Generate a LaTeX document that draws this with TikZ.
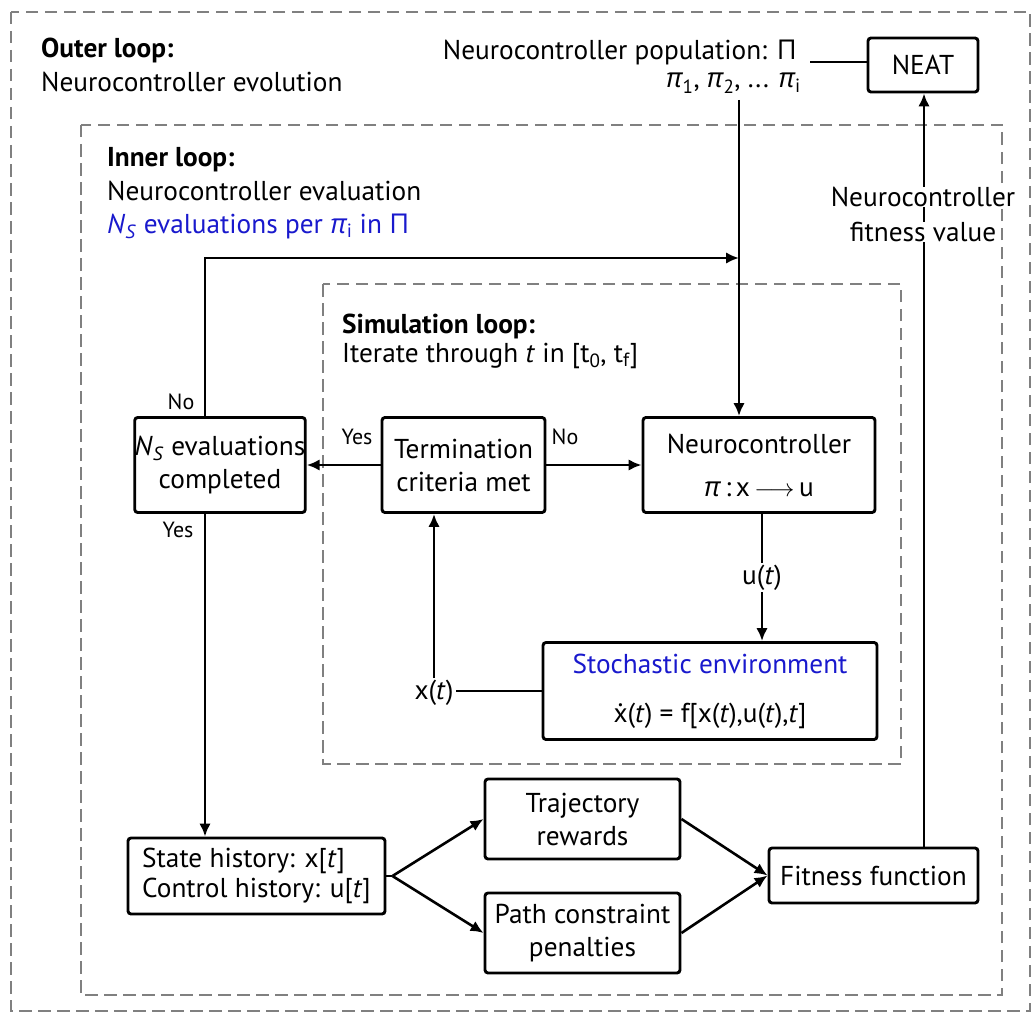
\documentclass[tikz,border=0pt]{standalone}
\usepackage{fontspec}
\setmainfont{PT Sans}
\newfontfamily\grk{Open Sans}
\usetikzlibrary{arrows.meta}
\definecolor{loopgray}{RGB}{128,128,128}
\definecolor{noteblue}{RGB}{25,25,205}
\newcommand{\gpi}{{\grk\itshape π}}
\newcommand{\gPi}{{\grk Π}}
\newcommand{\xdot}{\leavevmode\hbox{\ooalign{x\cr\hidewidth\raisebox{0.56em}{.}\hidewidth\cr}}}
\begin{document}
\begin{tikzpicture}[x=1pt,y=-1pt,
  every node/.style={font=\fontsize{27.3}{33}\selectfont},
  block/.style={draw, line width=2.9pt, rounded corners=3pt, fill=white,
    align=center, inner sep=0pt},
  loopbox/.style={draw=loopgray, line width=2.5pt, dash pattern=on 12.5pt off 6.5pt},
  arr/.style={line width=2.6pt, -{Latex[length=13pt,width=11.5pt]}},
  plain/.style={line width=2.6pt},
  title/.style={anchor=base west, inner sep=0pt},
  small/.style={font=\fontsize{22}{26}\selectfont, inner sep=0pt},
  onwire/.style={fill=white, inner sep=1.5pt}]
\fill[white] (0,0) rectangle (1033,1014);
\useasboundingbox (0,0) rectangle (1033,1014);

% nested loop frames
\draw[loopbox] (11,12) rectangle (1030,1011);
\draw[loopbox] (81,125) rectangle (1002,995);
\draw[loopbox] (323,284) rectangle (901,764);

% loop titles
\node[title] (outerT) at (41,58) {\textbf{Outer loop:}};
\node[title] (outerS) at (41,92) {Neurocontroller evolution};
\node[title] (innerT) at (107,166) {\textbf{Inner loop:}};
\node[title] (innerS) at (107,200) {Neurocontroller evaluation};
\node[title, text=noteblue] (innerN) at (107,233)
  {\textit{N}\textsubscript{\textit{S}} evaluations per \gpi\textsubscript{i} in \gPi};
\node[title] (simT) at (342,333) {\textbf{Simulation loop:}};
\node[title] (simS) at (342,362)
  {Iterate through \textit{t} in [t\textsubscript{0}, t\textsubscript{f}]};

% population and NEAT
\node[anchor=base east, inner sep=0pt] (pop) at (797,60) {Neurocontroller population: \gPi};
\node[anchor=base east, inner sep=0pt] (pis) at (801,88)
  {\gpi\textsubscript{1}, \gpi\textsubscript{2}, ... \gpi\textsubscript{i}};
\node[block, minimum width=110pt, minimum height=54pt] (neat) at (923,65) {NEAT};

% main blocks
\node[block, minimum width=146pt, minimum height=95pt] (ns) at (220,465)
  {\textit{N}\textsubscript{\textit{S}} evaluations\\completed};
\node[block, minimum width=163pt, minimum height=95pt] (term) at (463.5,465)
  {Termination\\criteria met};
\node[block, minimum width=232pt, minimum height=95pt] (neuro) at (759,465)
  {Neurocontroller\\[10pt]\gpi\,:\,x\,$\longrightarrow$\,u};
\node[block, minimum width=334pt, minimum height=97pt] (env) at (710,691)
  {\textcolor{noteblue}{Stochastic environment}\\[16pt]\xdot(\textit{t}) = f[x(\textit{t}),u(\textit{t}),\textit{t}]};
\node[block, minimum width=257pt, minimum height=76pt, align=left,
  font=\fontsize{27.3}{30}\selectfont] (state) at (256.5,876)
  {State history: x[\textit{t}]\\Control history: u[\textit{t}]};
\node[block, minimum width=195pt, minimum height=80pt] (traj) at (582.5,819)
  {Trajectory\\rewards};
\node[block, minimum width=195pt, minimum height=80pt] (path) at (582.5,933)
  {Path constraint\\penalties};
\node[block, minimum width=209pt, minimum height=55pt] (fit) at (873.5,875.5)
  {Fitness function};

% free ends
\coordinate (popend) at (810,62);
\coordinate (pifoot) at (739,100);
\coordinate (loopjoin) at (739,258);
\coordinate (fork) at ([xshift=6pt]state.east);

% connectors
\draw[plain] (popend) -- (popend -| neat.west);
\draw[arr] (pifoot) -- (pifoot |- neuro.north);
\draw[arr] ([xshift=-15pt]ns.north) |- (loopjoin);
\draw[arr] (term.west) -- (ns.east);
\draw[arr] (term.east) -- (neuro.west);
\draw[arr] ([xshift=-15pt]ns.south) -- ([xshift=-15pt]ns.south |- state.north);
\draw[arr] ([xshift=3pt]neuro.south) -- ([xshift=3pt]neuro.south |- env.north)
  node[midway, onwire] (ut) {u(\textit{t})};
\node[inner sep=2pt] (xt) at (434,693) {x(\textit{t})};
\draw[plain] (env.west) -- (env.west -| xt.east);
\draw[arr] (xt.north) -- (xt.north |- term.south);
\draw[plain] (state.east) -- (fork);
\draw[arr] (fork) -- (traj.west);
\draw[arr] (fork) -- (path.west);
\draw[arr] (traj.east) -- (fit.west);
\draw[arr] (path.east) -- (fit.west);
\draw[arr] ([xshift=50.5pt]fit.north) -- ([xshift=50.5pt]fit.north |- neat.south);
\node[onwire, inner sep=0.5pt] (fv1) at (923,197) {Neurocontroller};
\node[onwire, inner sep=0.5pt] (fv2) at (923,232) {fitness value};

% branch labels
\node[small] (noUp) at (181,402) {No};
\node[small] (yesL) at (357,437) {Yes};
\node[small] (noR) at (565,437) {No};
\node[small] (yesD) at (178,530) {Yes};
\end{tikzpicture}
\end{document}
